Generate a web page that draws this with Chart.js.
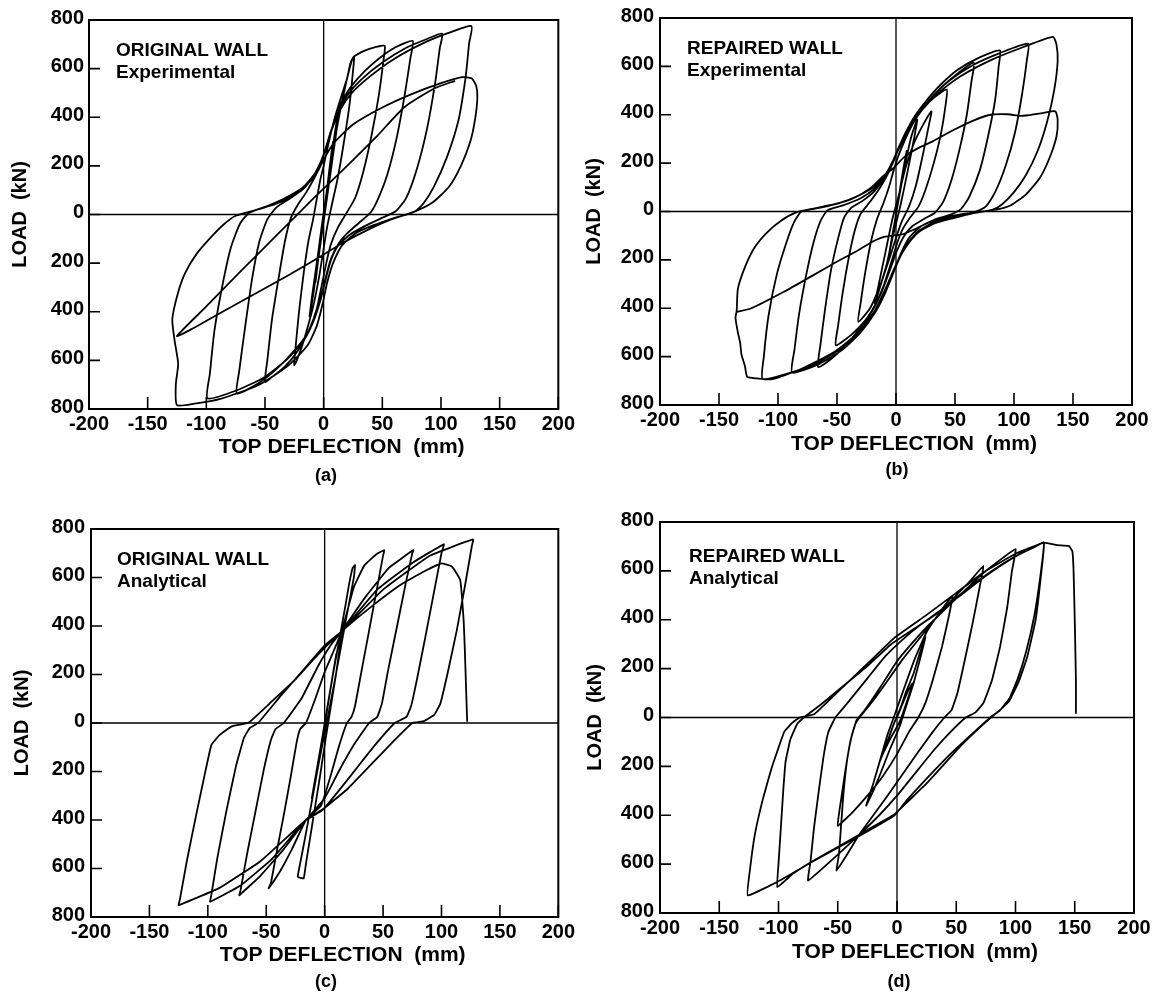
<!DOCTYPE html>
<html>
<head>
<meta charset="utf-8">
<script src="https://cdn.jsdelivr.net/npm/chart.js@4.4.1/dist/chart.umd.min.js"></script>
<style>
  body { margin: 0; background: #fff; }
  #page { position: relative; width: 1156px; height: 1003px; background: #fff; }
  canvas { position: absolute; }
  .tag { position: absolute; font: bold 18px "Liberation Sans", Arial, sans-serif; transform: translate(-50%, -50%); color: #000; }
</style>
</head>
<body>
<div id="page">
  <canvas id="chart_a" width="578" height="501" style="left:0px;top:0px"></canvas>
  <canvas id="chart_b" width="578" height="501" style="left:578px;top:0px"></canvas>
  <canvas id="chart_c" width="578" height="502" style="left:0px;top:501px"></canvas>
  <canvas id="chart_d" width="578" height="502" style="left:578px;top:501px"></canvas>
  <div class="tag" style="left:326px;top:475px">(a)</div>
  <div class="tag" style="left:897px;top:469px">(b)</div>
  <div class="tag" style="left:326px;top:981px">(c)</div>
  <div class="tag" style="left:899px;top:981px">(d)</div>
</div>
<script>
const xTicks = [-200, -150, -100, -50, 0, 50, 100, 150, 200];
const yTicks = [-800, -600, -400, -200, 0, 200, 400, 600, 800];

// top deflection (mm), load (kN) - original wall, experimental
const origExp = [
  [0,0],[3,110],[6,230],[8,300],[6,220],[2,70],[-2,-80],[-5,-200],[-7,-280],[-5,-200],[-2,-70],[2,70],
  [6,210],[10,350],[14,450],[12,380],[7,210],[2,40],[-3,-130],[-8,-300],[-12,-420],[-10,-340],[-5,-170],[0,10],
  [5,170],[10,320],[15,450],[20,560],[23,625],[26,650],
  [25,590],[22,450],[17,290],[12,150],[7,40],[3,-50],[0,-140],[-4,-260],[-9,-380],[-14,-470],[-19,-550],[-25,-620],
  [-24,-550],[-21,-400],[-17,-240],[-13,-110],[-9,-20],[-6,60],[-3,140],[0,200],[4,290],[9,390],[14,470],[20,560],[25,645],[34,672],[44,688],[52,694],
  [51,635],[47,490],[41,330],[34,180],[27,70],[20,10],[12,-55],[6,-125],[2,-205],[-2,-300],[-6,-390],[-12,-470],[-22,-560],[-34,-630],[-44,-668],[-50,-689],
  [-48,-600],[-44,-430],[-38,-250],[-33,-110],[-28,-15],[-22,40],[-15,90],[-8,150],[-3,200],[0,245],[5,320],[10,400],[16,470],[24,530],[35,590],[48,645],[62,690],[76,714],
  [74,645],[69,490],[62,310],[54,160],[46,60],[40,8],[30,-35],[20,-78],[12,-125],[6,-185],[2,-255],[-2,-335],[-7,-415],[-14,-490],[-25,-560],[-40,-635],[-56,-695],[-74,-736],
  [-72,-645],[-67,-465],[-61,-265],[-55,-115],[-48,-20],[-40,30],[-30,62],[-18,102],[-9,155],[-3,210],[1,262],[6,340],[12,420],[20,490],[32,555],[50,625],[70,685],[88,722],[101,744],
  [99,685],[95,540],[88,350],[79,180],[70,65],[61,12],[48,-18],[35,-48],[22,-84],[12,-130],[6,-190],[2,-262],[-2,-340],[-8,-430],[-16,-510],[-30,-590],[-50,-668],[-75,-725],[-99,-756],
  [-97,-655],[-93,-475],[-86,-285],[-79,-135],[-71,-35],[-63,8],[-48,35],[-32,70],[-18,110],[-8,165],[-2,222],[2,272],[7,350],[14,430],[24,500],[40,570],[60,640],[85,705],[107,748],[126,775],
  [124,705],[121,565],[115,390],[105,235],[94,115],[85,45],[77,10],[60,-15],[42,-45],[28,-75],[16,-125],[8,-200],[3,-280],[-1,-370],[-6,-460],[-14,-540],[-30,-620],[-55,-700],[-88,-758],[-110,-778],[-125,-784],
  [-126,-700],[-124,-614],[-127,-520],[-129,-430],[-124,-320],[-118,-240],[-108,-160],[-95,-88],[-85,-40],[-75,-5],[-55,22],[-35,55],[-18,105],[-6,170],[0,225],[8,290],[25,370],[50,440],[75,495],[100,540],[118,565],[126,560],
  [130,530],[131,480],[129,390],[125,300],[117,200],[107,115],[93,50],[79,15],[55,-25],[38,-62],[15,-120],[0,-165],[-30,-250],[-60,-330],[-90,-410],[-112,-470],[-125,-500],
  [-100,-378],[-70,-230],[-40,-85],[-10,60],[20,200],[45,320],[69,442],[95,520],[112,550]
];

// repaired wall, experimental
const repExp = [
  [0,0],[3,80],[6,170],[9,250],[7,190],[3,80],[-1,-40],[-4,-130],[-7,-210],[-5,-150],[-1,-40],[3,70],
  [8,200],[13,310],[18,380],[16,320],[10,170],[4,30],[-2,-90],[-8,-220],[-14,-320],[-18,-380],[-15,-310],[-9,-170],[-3,-30],[2,60],
  [8,180],[15,280],[22,350],[30,414],[28,360],[23,240],[17,110],[11,20],[5,-40],[0,-110],[-6,-200],[-13,-300],[-22,-400],[-32,-456],
  [-30,-380],[-26,-250],[-21,-120],[-16,-30],[-11,30],[-6,100],[-2,170],[2,230],[8,300],[14,360],[22,420],[32,470],[43,504],
  [42,440],[38,320],[32,200],[25,90],[19,20],[12,-25],[6,-70],[1,-130],[-4,-210],[-10,-300],[-17,-380],[-26,-450],[-38,-510],[-51,-553],
  [-49,-470],[-45,-330],[-40,-190],[-35,-80],[-30,-10],[-22,40],[-14,95],[-7,155],[-1,220],[4,280],[10,340],[18,400],[28,460],[40,520],[52,570],[66,615],
  [64,540],[60,400],[54,260],[47,130],[40,40],[33,-5],[24,-30],[14,-60],[7,-100],[1,-160],[-5,-240],[-12,-330],[-20,-410],[-30,-480],[-43,-555],[-55,-610],[-66,-643],
  [-64,-550],[-60,-400],[-55,-240],[-49,-110],[-44,-25],[-38,15],[-28,45],[-18,85],[-10,140],[-3,205],[2,262],[8,325],[16,395],[26,460],[38,525],[52,585],[70,635],[88,666],
  [87,600],[84,460],[78,310],[71,170],[62,60],[55,10],[45,-15],[32,-35],[20,-65],[11,-110],[4,-175],[-2,-250],[-9,-335],[-18,-420],[-30,-500],[-45,-570],[-65,-630],[-88,-666],
  [-86,-570],[-82,-420],[-76,-260],[-70,-130],[-64,-40],[-58,5],[-45,25],[-30,55],[-18,95],[-9,150],[-2,215],[3,270],[10,335],[19,405],[30,470],[45,540],[65,605],[88,655],[112,694],
  [111,630],[107,490],[101,330],[93,190],[84,80],[76,20],[65,-5],[48,-25],[32,-45],[18,-85],[8,-145],[1,-215],[-6,-300],[-15,-395],[-28,-480],[-45,-560],[-68,-630],[-92,-670],[-113,-693],
  [-112,-600],[-108,-430],[-101,-260],[-93,-130],[-86,-40],[-80,0],[-65,15],[-48,35],[-32,65],[-18,105],[-8,160],[-1,225],[5,285],[13,355],[23,425],[36,490],[55,560],[80,625],[108,680],[133,722],
  [136,690],[137,620],[134,500],[128,370],[120,250],[110,150],[100,80],[90,30],[82,8],[65,-8],[48,-28],[32,-50],[18,-90],[8,-150],[0,-220],[-8,-310],[-18,-410],[-32,-500],[-52,-580],[-80,-650],[-105,-693],[-118,-690],
  [-126,-684],[-128,-640],[-131,-590],[-132,-545],[-134,-500],[-136,-440],[-135,-410],
  [-134,-320],[-128,-230],[-120,-150],[-110,-90],[-98,-40],[-85,-5],[-70,12],[-52,30],[-36,55],[-22,95],[-10,150],[-2,180],[8,230],[20,265],[31,290],[50,340],[65,375],[80,400],[95,402],[105,395],[112,398],[125,408],[135,414],
  [137,380],[136,310],[130,220],[122,140],[110,70],[97,25],[85,8],[65,-5],[45,-20],[28,-45],[15,-75],[5,-95],[-10,-105],[-20,-125],[-32,-160],[-51,-210],[-70,-263],[-95,-332],[-123,-401],[-135,-415]
];

// original wall, analytical
const origAna = [
  [0,0],[5,140],[10,285],[7,200],[2,50],[-3,-90],[-8,-230],[-11,-310],[-7,-200],[-2,-60],[0,0],
  [6,170],[12,330],[18,490],[21,575],[24,640],[26,651],
  [25,600],[18,420],[10,210],[3,30],[0,-40],[-6,-190],[-12,-350],[-17,-480],[-21,-580],[-23,-634],[-18,-641],
  [-16,-580],[-10,-400],[-4,-220],[1,-60],[5,60],[10,210],[15,380],[25,560],[34,650],[44,695],[51,713],
  [50,690],[45,560],[38,380],[31,200],[26,70],[23,25],[19,0],[12,-100],[5,-220],[-3,-340],[-16,-400],[-28,-520],[-38,-610],[-48,-682],
  [-46,-660],[-41,-530],[-35,-380],[-29,-220],[-24,-80],[-21,-25],[-16,0],[-8,100],[0,210],[8,300],[15,380],[35,520],[55,640],[76,713],
  [75,700],[70,590],[62,400],[54,210],[49,80],[45,25],[38,0],[25,-90],[12,-200],[0,-310],[-16,-400],[-35,-520],[-55,-630],[-73,-710],
  [-72,-690],[-66,-530],[-59,-360],[-52,-190],[-46,-70],[-42,-25],[-35,0],[-20,100],[-5,240],[5,320],[15,380],[45,550],[75,660],[102,737],
  [100,700],[94,550],[86,350],[79,180],[74,70],[70,25],[60,0],[45,-80],[30,-170],[12,-280],[-2,-360],[-16,-400],[-45,-560],[-72,-670],[-98,-737],
  [-97,-710],[-92,-560],[-84,-360],[-76,-180],[-69,-60],[-64,-20],[-57,0],[-38,110],[-18,220],[0,320],[15,380],[50,550],[90,690],[127,757],
  [126,730],[120,563],[113,380],[105,200],[99,80],[94,35],[85,8],[75,0],[60,-70],[40,-170],[20,-270],[0,-350],[-16,-400],[-55,-570],[-90,-680],[-125,-751],
  [-124,-730],[-118,-570],[-110,-380],[-103,-220],[-97,-91],[-90,-50],[-80,-15],[-65,2],[-45,90],[-25,180],[-10,260],[0,310],[15,380],[40,480],[65,570],[85,625],[100,658],[109,645],[116,590],[119,420],[120,300],[121,150],[122,5]
];

// repaired wall, analytical
const repAna = [
  [0,0],[5,60],[10,115],[13,140],[8,60],[2,-20],[-6,-90],[-12,-150],[-15,-185],[-9,-110],[-3,-30],[3,40],
  [8,110],[14,180],[19,260],[24,330],[20,250],[14,140],[8,50],[2,-40],[-6,-130],[-14,-230],[-20,-300],[-26,-360],[-20,-270],[-14,-170],[-8,-70],[-2,10],
  [6,120],[15,240],[25,350],[36,430],[47,499],
  [44,420],[38,290],[30,150],[24,60],[18,0],[10,-60],[0,-150],[-12,-240],[-25,-320],[-38,-390],[-50,-443],
  [-47,-330],[-43,-200],[-39,-90],[-35,-25],[-30,10],[-20,70],[-8,150],[5,240],[20,330],[35,420],[50,500],[62,560],[73,621],
  [70,540],[64,390],[57,230],[51,100],[46,30],[40,0],[30,-60],[18,-140],[5,-230],[-8,-320],[-20,-400],[-32,-480],[-42,-560],[-51,-626],
  [-49,-560],[-47,-430],[-45,-300],[-42,-170],[-38,-70],[-34,-10],[-28,25],[-18,95],[-8,170],[0,230],[12,300],[25,370],[40,440],[55,510],[75,600],[100,689],
  [97,600],[93,450],[87,290],[80,150],[73,60],[66,20],[58,0],[45,-60],[30,-140],[15,-230],[0,-320],[-15,-400],[-32,-480],[-52,-570],[-75,-667],
  [-73,-590],[-70,-450],[-66,-300],[-62,-160],[-58,-60],[-52,0],[-40,70],[-25,160],[-10,250],[5,320],[20,380],[40,450],[60,530],[80,600],[100,660],[115,695],[124,716],
  [121,580],[116,420],[109,270],[102,160],[95,79],[88,35],[82,11],[70,-40],[55,-110],[40,-190],[25,-270],[10,-340],[-2,-396],[-25,-460],[-50,-530],[-72,-590],[-88,-640],[-101,-694],
  [-100,-600],[-98,-450],[-96,-300],[-94,-180],[-90,-90],[-84,-25],[-76,10],[-65,50],[-45,130],[-25,210],[-5,300],[15,365],[35,430],[55,505],[75,580],[95,645],[112,690],[124,716],
  [121,560],[117,400],[110,250],[103,150],[95,70],[86,25],[80,5],[65,-60],[45,-150],[25,-250],[8,-340],[-2,-400],[-30,-480],[-70,-586],[-100,-670],[-126,-728],
  [-124,-620],[-120,-480],[-113,-330],[-106,-210],[-101,-138],[-95,-57],[-88,-20],[-82,0],[-70,13],[-50,105],[-25,220],[-2,327],[25,420],[50,510],[75,600],[100,670],[124,716],
  [135,705],[145,702],[148,680],[149,600],[150,400],[151,150],[151,15]
];

const FONT = '"Liberation Sans", Arial, Helvetica, sans-serif';
Chart.defaults.font.family = FONT;
Chart.defaults.font.weight = "bold";
Chart.defaults.color = "#000";

const framePlugin = {
  id: "frame",
  afterDatasetsDraw(chart, args, opts) {
    const {ctx, chartArea: a, scales: {x, y}} = chart;
    ctx.save();
    ctx.strokeStyle = "#000";
    ctx.fillStyle = "#000";

    // zero lines
    const x0 = x.getPixelForValue(0);
    const y0 = y.getPixelForValue(0);
    ctx.lineWidth = 1.3;
    ctx.beginPath();
    ctx.moveTo(x0, a.top); ctx.lineTo(x0, a.bottom);
    ctx.moveTo(a.left, y0); ctx.lineTo(a.right, y0);
    ctx.stroke();

    // inward tick marks
    ctx.lineWidth = 1.6;
    ctx.beginPath();
    for (const v of xTicks) {
      const p = x.getPixelForValue(v);
      ctx.moveTo(p, a.bottom); ctx.lineTo(p, a.bottom - 12);
    }
    for (const v of yTicks) {
      const p = y.getPixelForValue(v);
      ctx.moveTo(a.left, p); ctx.lineTo(a.left + 11, p);
    }
    ctx.stroke();

    ctx.lineWidth = 2;
    ctx.strokeRect(a.left, a.top, a.right - a.left, a.bottom - a.top);

    // wall label
    ctx.font = "bold 19px " + FONT;
    ctx.textAlign = "left";
    ctx.textBaseline = "alphabetic";
    ctx.fillText(opts.line1, a.left + opts.dx, a.top + opts.dy);
    ctx.fillText(opts.line2, a.left + opts.dx, a.top + opts.dy + 22);

    // axis titles
    ctx.font = "bold 21px " + FONT;
    ctx.textAlign = "center";
    ctx.textBaseline = "middle";
    ctx.fillText("TOP DEFLECTION  (mm)", (a.left + a.right) / 2 + 18, opts.xTitleY);
    ctx.font = "bold 20px " + FONT;
    ctx.translate(opts.yTitleX, (a.top + a.bottom) / 2);
    ctx.rotate(-Math.PI / 2);
    ctx.fillText("LOAD  (kN)", 0, 0);
    ctx.restore();
  }
};

function makePanel(id, points, box, text, tension) {
  const canvas = document.getElementById(id);
  const tickFont = {size: 20, weight: "bold", family: FONT};
  new Chart(canvas, {
    type: "scatter",
    plugins: [framePlugin],
    data: {
      datasets: [{
        data: points.map(p => ({x: p[0], y: p[1]})),
        showLine: true,
        borderColor: "#000",
        borderWidth: 1.8,
        pointRadius: 0,
        tension: tension,
        fill: false
      }]
    },
    options: {
      responsive: false,
      animation: false,
      events: [],
      layout: {padding: {top: box.t, right: canvas.width - box.r, left: 0, bottom: 0}},
      plugins: {
        legend: {display: false},
        tooltip: {enabled: false},
        frame: text
      },
      scales: {
        x: {
          type: "linear", min: -200, max: 200,
          afterBuildTicks: s => { s.ticks = xTicks.map(v => ({value: v})); },
          afterFit: s => { s.height = canvas.height - box.b; },
          grid: {display: false, drawTicks: false},
          border: {display: false},
          ticks: {color: "#000", font: tickFont, padding: box.xpad, maxRotation: 0, autoSkip: false,
                  callback: v => String(v)}
        },
        y: {
          type: "linear", min: -800, max: 800,
          afterBuildTicks: s => { s.ticks = yTicks.map(v => ({value: v})); },
          afterFit: s => { s.width = box.l; },
          grid: {display: false, drawTicks: false},
          border: {display: false},
          ticks: {color: "#000", font: tickFont, padding: box.ypad, labelOffset: -2, autoSkip: false,
                  callback: v => String(Math.abs(v))}
        }
      }
    }
  });
}

makePanel("chart_a", origExp, {l: 89, t: 20, r: 561, b: 409, xpad: 3, ypad: 5},
  {line1: "ORIGINAL WALL", line2: "Experimental", dx: 27, dy: 36, xTitleY: 447, yTitleX: 20}, 0.2);
makePanel("chart_b", repExp, {l: 82, t: 17, r: 554, b: 405, xpad: 3, ypad: 6},
  {line1: "REPAIRED WALL", line2: "Experimental", dx: 27, dy: 36, xTitleY: 444, yTitleX: 16}, 0.2);
makePanel("chart_c", origAna, {l: 91, t: 28, r: 562, b: 416, xpad: 3, ypad: 6},
  {line1: "ORIGINAL WALL", line2: "Analytical", dx: 26, dy: 36, xTitleY: 454, yTitleX: 22}, 0.1);
makePanel("chart_d", repAna, {l: 82, t: 21, r: 556, b: 412, xpad: 3, ypad: 6},
  {line1: "REPAIRED WALL", line2: "Analytical", dx: 29, dy: 40, xTitleY: 451, yTitleX: 17}, 0.1);
</script>
</body>
</html>
